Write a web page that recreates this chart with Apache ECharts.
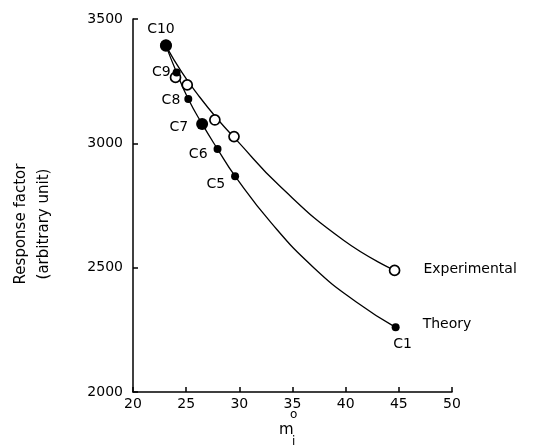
<!DOCTYPE html>
<html>
<head>
<meta charset="utf-8">
<script src="https://cdn.jsdelivr.net/npm/echarts@6/dist/echarts.min.js"></script>
<style>html,body{margin:0;padding:0;background:#fff}#c{width:549px;height:448px}</style>
</head>
<body>
<div id="c"></div>
<script>
// ---- data ----
const theoryNames = ['C10', 'C9', 'C8', 'C7', 'C6', 'C5', 'C1'];
const theoryX = [23.1, 24.1, 25.2, 26.5, 27.95, 29.6, 44.7];
const theoryY = [3392, 3285, 3178, 3078, 2977, 2868, 2260];
const expX = [23.1, 24.0, 25.1, 27.7, 29.5, 44.6];
const expY = [3395, 3265, 3235, 3094, 3027, 2489];
// smooth curves as traced on the picture
const theoryCurveX = [23.1, 24.1, 25.2, 26.5, 27.95, 29.6, 33.0, 37.0, 41.0, 44.7];
const theoryCurveY = [3392, 3285, 3178, 3078, 2977, 2868, 2680, 2500, 2362, 2260];
const expCurveX = [23.1, 24.6, 26.2, 27.9, 29.7, 33.9, 39.8, 44.6];
const expCurveY = [3392, 3285, 3190, 3100, 3015, 2824, 2610, 2489];
const xMin = 20, xMax = 50, xStep = 5;
const yMin = 2000, yMax = 3500, yStep = 500;
const seriesNames = ['Experimental', 'Theory'];
const yTitle = ['Response factor', '(arbitrary unit)'];

const FONT = 'DejaVu Sans';
const zip = (a, b) => a.map((v, i) => [v, b[i]]);

// label placement for the theory point names
const labelPlace = {
  C10: {position: 'top', offset: [-5, 2]},
  C9: {position: 'left', offset: [3, 0]},
  C8: {position: 'left', offset: [1, 1]},
  C7: {position: 'left', offset: [-3, 3]},
  C6: {position: 'left', offset: [-1, 5]},
  C5: {position: 'left', offset: [-1, 8]},
  C1: {position: 'bottom', offset: [7, 1]}
};

const theoryData = theoryX.map((x, i) => {
  const n = theoryNames[i];
  const big = (n === 'C7' || n === 'C10');
  return {
    value: [x, theoryY[i]],
    symbolSize: big ? 12 : 8,
    label: Object.assign({show: true, formatter: n, color: '#000', fontFamily: FONT, fontSize: 14}, labelPlace[n])
  };
});

const chart = echarts.init(document.getElementById('c'), null, {renderer: 'canvas'});
chart.setOption({
  animation: false,
  backgroundColor: '#fff',
  grid: {left: 133, right: 97, top: 19, bottom: 56, containLabel: false},
  xAxis: {
    type: 'value', min: xMin, max: xMax, interval: xStep,
    axisLine: {lineStyle: {color: '#000', width: 1.5}},
    axisTick: {inside: true, length: 5, lineStyle: {color: '#000', width: 1.5}},
    axisLabel: {color: '#000', fontFamily: FONT, fontSize: 14, margin: 5, formatter: v => String(v)},
    splitLine: {show: false}
  },
  yAxis: {
    type: 'value', min: yMin, max: yMax, interval: yStep,
    axisLine: {show: true, lineStyle: {color: '#000', width: 1.5}},
    axisTick: {show: true, inside: true, length: 5, lineStyle: {color: '#000', width: 1.5}},
    axisLabel: {color: '#000', fontFamily: FONT, fontSize: 14, margin: 10, formatter: v => String(v)},
    splitLine: {show: false}
  },
  graphic: [
    {type: 'text', left: 14, top: 'middle', rotation: Math.PI / 2,
      style: {text: yTitle[0], fill: '#000', font: '15px ' + FONT}},
    {type: 'text', left: 37, top: 'middle', rotation: Math.PI / 2,
      style: {text: yTitle[1], fill: '#000', font: '15px ' + FONT}},
    {type: 'text', left: 279, top: 423, style: {text: 'm', fill: '#000', font: '15px ' + FONT}},
    {type: 'text', left: 290, top: 409, style: {text: 'o', fill: '#000', font: '12px ' + FONT}},
    {type: 'text', left: 292, top: 436, style: {text: 'i', fill: '#000', font: '12px ' + FONT}}
  ],
  series: [
    {type: 'line', data: zip(expCurveX, expCurveY), smooth: 0.5, symbol: 'none',
      lineStyle: {color: '#000', width: 1.3}, z: 1, silent: true},
    {type: 'line', data: zip(theoryCurveX, theoryCurveY), smooth: 0.5, symbol: 'none',
      lineStyle: {color: '#000', width: 1.3}, z: 1, silent: true},
    {name: seriesNames[0], type: 'scatter', data: zip(expX, expY).map((v, i, a) => ({
        value: v,
        label: i === a.length - 1 ? {show: true, position: 'right', offset: [18, -1], formatter: seriesNames[0], color: '#000', fontFamily: FONT, fontSize: 14} : {show: false}
      })),
      symbol: 'circle', symbolSize: 10,
      itemStyle: {color: '#fff', borderColor: '#000', borderWidth: 1.7, opacity: 1}, z: 3},
    {name: seriesNames[1], type: 'scatter', data: theoryData,
      symbol: 'circle', itemStyle: {color: '#000', opacity: 1}, z: 4},
    {type: 'scatter', data: [[theoryX[theoryX.length - 1], theoryY[theoryY.length - 1]]],
      symbolSize: 0, itemStyle: {opacity: 1, color: '#000'},
      label: {show: true, position: 'right', offset: [22, -3], formatter: seriesNames[1], color: '#000', fontFamily: FONT, fontSize: 14}, z: 5}
  ]
});
</script>
</body>
</html>
